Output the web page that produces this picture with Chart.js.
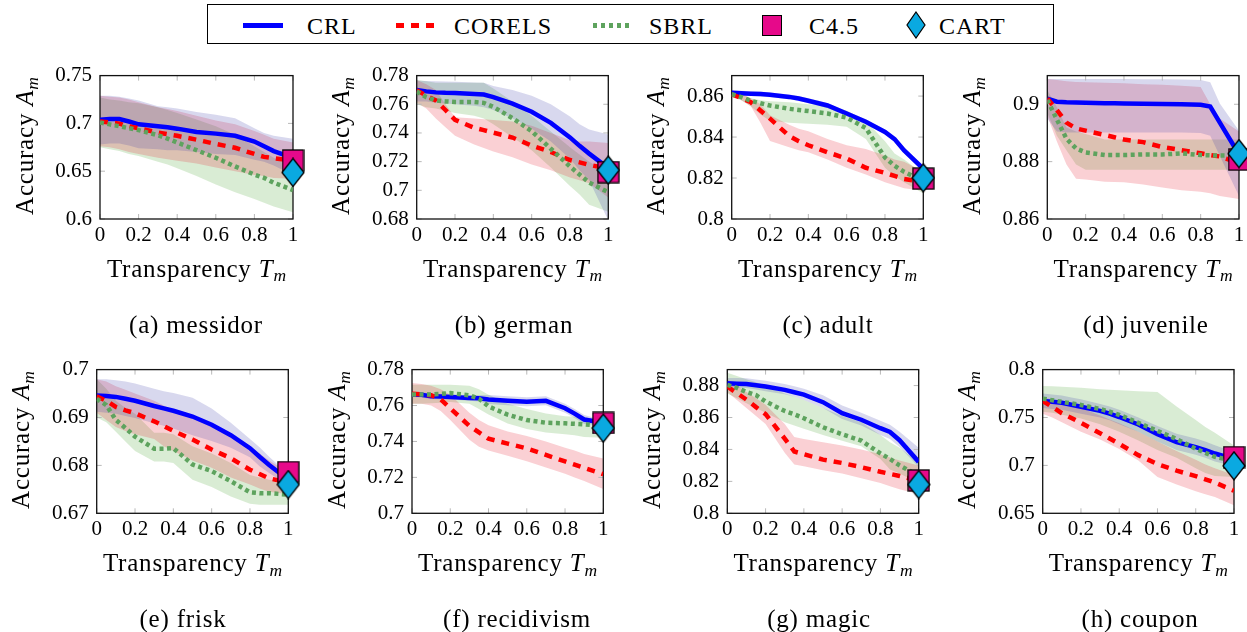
<!DOCTYPE html>
<html>
<head>
<meta charset="utf-8">
<script src="https://cdn.jsdelivr.net/npm/chart.js@4.4.1/dist/chart.umd.min.js"></script>
<style>
body { margin: 0; background: #fff; }
#fig { position: relative; width: 1247px; height: 632px; overflow: hidden; background: #fff; font-family: "Liberation Serif", "DejaVu Serif", serif; color: #000; }
#fig canvas { position: absolute; }
.txt { position: absolute; white-space: nowrap; font-size: 25px; line-height: 25px; letter-spacing: 0.8px; }
.leg { position: absolute; white-space: nowrap; font-size: 24px; line-height: 24px; letter-spacing: 1px; top: 14px; }
.sb { font-size: 0.7em; position: relative; top: 0.28em; letter-spacing: 0; }
.ytitle { width: 220px; height: 30px; line-height: 30px; text-align: center; transform: rotate(-90deg); }
</style>
</head>
<body>
<div id="fig">
  <div style="position:absolute;left:207px;top:4px;width:845px;height:38px;border:1.3px solid #000;"></div>
  <div style="position:absolute;left:243px;top:23px;width:40px;height:5px;background:#0000ff;"></div>
  <div class="leg" style="left:307px;">CRL</div>
  <div style="position:absolute;left:396px;top:23px;width:38px;height:5px;background:repeating-linear-gradient(90deg,#ff0000 0 8px,transparent 8px 15px);"></div>
  <div class="leg" style="left:454px;">CORELS</div>
  <div style="position:absolute;left:593px;top:23px;width:37px;height:5px;background:repeating-linear-gradient(90deg,#5ea35e 0 4px,transparent 4px 8px);"></div>
  <div class="leg" style="left:649px;">SBRL</div>
  <div style="position:absolute;left:762px;top:15px;width:18px;height:19px;background:#e6098a;border:1.2px solid #000;"></div>
  <div class="leg" style="left:809px;">C4.5</div>
  <svg style="position:absolute;left:906px;top:11px;" width="20" height="28"><polygon points="10,1 19,14 10,27 1,14" fill="#0aa9e1" stroke="#000" stroke-width="1.2"/></svg>
  <div class="leg" style="left:939px;">CART</div>
</div>
<script>
// transparency grid shared by every curve
const T = [0, 0.05, 0.1, 0.15, 0.2, 0.3, 0.35, 0.4, 0.5, 0.6, 0.7, 0.8, 0.85, 0.9, 1];

// (a) messidor
const messidorCrl   = [0.7038,0.7045,0.7045,0.702,0.699,0.697,0.696,0.6945,0.691,0.6893,0.687,0.681,0.676,0.671,0.664];
const messidorCrlHi = [0.729,0.729,0.728,0.726,0.724,0.718,0.717,0.7155,0.712,0.709,0.7055,0.695,0.690,0.687,0.684];
const messidorCrlLo = [0.678,0.679,0.679,0.677,0.674,0.673,0.672,0.672,0.670,0.668,0.667,0.662,0.660,0.656,0.646];
const messidorCor   = [0.702,0.701,0.6998,0.697,0.695,0.6903,0.6887,0.687,0.683,0.6785,0.6745,0.668,0.665,0.6635,0.661];
const messidorCorHi = [0.729,0.728,0.727,0.725,0.722,0.717,0.715,0.713,0.708,0.703,0.699,0.692,0.688,0.684,0.680];
const messidorCorLo = [0.676,0.675,0.673,0.670,0.668,0.664,0.6625,0.661,0.658,0.654,0.650,0.646,0.645,0.643,0.642];
const messidorSb    = [0.701,0.699,0.697,0.695,0.693,0.6876,0.684,0.680,0.672,0.664,0.655,0.6465,0.643,0.638,0.6303];
const messidorSbHi  = [0.727,0.725,0.724,0.722,0.721,0.717,0.714,0.711,0.704,0.697,0.688,0.676,0.670,0.664,0.654];
const messidorSbLo  = [0.675,0.673,0.671,0.668,0.666,0.660,0.657,0.653,0.645,0.636,0.628,0.621,0.617,0.613,0.607];

// (b) german
const germanCrl   = [0.7699,0.769,0.7683,0.768,0.7679,0.7672,0.7668,0.765,0.7604,0.7548,0.747,0.7369,0.731,0.7256,0.7155];
const germanCrlHi = [0.7766,0.7763,0.776,0.7758,0.7757,0.7752,0.775,0.7728,0.770,0.766,0.760,0.7515,0.746,0.7425,0.739];
const germanCrlLo = [0.762,0.762,0.761,0.7605,0.760,0.759,0.758,0.756,0.750,0.743,0.734,0.722,0.714,0.707,0.679];
const germanCor   = [0.7699,0.766,0.7627,0.756,0.7492,0.7436,0.742,0.7402,0.7368,0.7312,0.7267,0.7211,0.7195,0.7178,0.715];
const germanCorHi = [0.777,0.774,0.770,0.760,0.751,0.750,0.7495,0.749,0.748,0.745,0.740,0.735,0.734,0.734,0.733];
const germanCorLo = [0.761,0.757,0.750,0.744,0.738,0.732,0.7295,0.727,0.723,0.718,0.714,0.709,0.707,0.705,0.695];
const germanSb    = [0.7689,0.765,0.7627,0.762,0.7616,0.7616,0.761,0.7582,0.7503,0.7413,0.729,0.7166,0.711,0.7054,0.6987];
const germanSbHi  = [0.777,0.776,0.775,0.775,0.775,0.775,0.775,0.771,0.762,0.752,0.741,0.730,0.725,0.720,0.712];
const germanSbLo  = [0.760,0.758,0.757,0.7555,0.754,0.752,0.750,0.746,0.737,0.728,0.716,0.703,0.697,0.690,0.685];

// (c) adult
const adultCrl   = [0.8616,0.8614,0.8612,0.861,0.8606,0.8596,0.8588,0.8577,0.8554,0.8515,0.8475,0.8425,0.839,0.8335,0.8245];
const adultCrlHi = [0.8628,0.8626,0.8624,0.8622,0.8618,0.8608,0.860,0.8589,0.8566,0.8527,0.8487,0.8437,0.8402,0.8347,0.8257];
const adultCrlLo = [0.8604,0.8602,0.860,0.8598,0.8594,0.8584,0.8576,0.8565,0.8542,0.8503,0.8463,0.8413,0.8378,0.8323,0.8233];
const adultCor   = [0.8609,0.859,0.857,0.853,0.849,0.8405,0.838,0.836,0.8326,0.8295,0.825,0.8225,0.821,0.8195,0.818];
const adultCorHi = [0.862,0.861,0.859,0.856,0.8507,0.846,0.844,0.8428,0.839,0.836,0.8342,0.831,0.829,0.828,0.8232];
const adultCorLo = [0.8605,0.858,0.855,0.847,0.8381,0.835,0.8335,0.8326,0.829,0.825,0.8217,0.818,0.8165,0.815,0.8138];
const adultSb    = [0.8609,0.8595,0.8577,0.8565,0.8554,0.8538,0.8532,0.8527,0.8515,0.8495,0.8444,0.830,0.826,0.823,0.8185];
const adultSbHi  = [0.862,0.861,0.859,0.858,0.8575,0.857,0.8565,0.856,0.855,0.853,0.848,0.838,0.832,0.829,0.822];
const adultSbLo  = [0.860,0.858,0.855,0.851,0.848,0.847,0.8467,0.8465,0.846,0.845,0.839,0.825,0.821,0.818,0.8125];

// (d) juvenile
const juvenileCrl   = [0.902,0.9009,0.9007,0.9006,0.9005,0.9004,0.9004,0.9003,0.9002,0.9001,0.900,0.8998,0.8992,0.8936,0.8825];
const juvenileCrlHi = [0.9088,0.9088,0.9088,0.9088,0.9088,0.9088,0.9088,0.9088,0.9087,0.9087,0.9086,0.9085,0.9077,0.9003,0.8908];
const juvenileCrlLo = [0.895,0.8905,0.8902,0.8902,0.8902,0.8902,0.8902,0.8902,0.8902,0.8902,0.8902,0.890,0.889,0.882,0.868];
const juvenileCor   = [0.902,0.898,0.8936,0.8916,0.8908,0.8893,0.8885,0.8877,0.8868,0.8851,0.884,0.8829,0.8823,0.8818,0.8795];
const juvenileCorHi = [0.9088,0.9085,0.908,0.9078,0.9077,0.9075,0.9074,0.9073,0.907,0.9068,0.9065,0.906,0.900,0.895,0.8905];
const juvenileCorLo = [0.896,0.887,0.879,0.874,0.8738,0.873,0.8729,0.8728,0.872,0.871,0.870,0.8695,0.869,0.868,0.867];
const juvenileSb    = [0.9015,0.8947,0.888,0.8846,0.8832,0.8823,0.8823,0.8823,0.8825,0.8825,0.8829,0.8823,0.8822,0.8821,0.8821];
const juvenileSbHi  = [0.905,0.899,0.8919,0.8905,0.8896,0.8877,0.8877,0.8877,0.8877,0.8877,0.8877,0.8877,0.8877,0.8877,0.8877];
const juvenileSbLo  = [0.897,0.889,0.884,0.879,0.8772,0.8772,0.8772,0.8772,0.8772,0.8772,0.8772,0.8772,0.8772,0.8772,0.8772];

// (e) frisk
const friskCrl   = [0.6946,0.6945,0.6943,0.6939,0.6935,0.6924,0.6919,0.6914,0.6902,0.6885,0.6863,0.6836,0.6818,0.6801,0.677];
const friskCrlHi = [0.698,0.698,0.6978,0.6975,0.6971,0.696,0.6955,0.6951,0.6941,0.6919,0.6889,0.6855,0.6838,0.6818,0.6782];
const friskCrlLo = [0.6912,0.691,0.6908,0.6903,0.6899,0.6888,0.6883,0.6877,0.6863,0.6851,0.6837,0.6817,0.6798,0.6784,0.6758];
const friskCor   = [0.6944,0.6935,0.6922,0.6915,0.6909,0.6892,0.6882,0.6872,0.6854,0.6833,0.6815,0.6791,0.6782,0.6773,0.6764];
const friskCorHi = [0.698,0.6975,0.6965,0.6958,0.695,0.6935,0.6925,0.6915,0.6898,0.6883,0.6862,0.6835,0.6825,0.681,0.6785];
const friskCorLo = [0.691,0.6895,0.688,0.6872,0.6865,0.6855,0.684,0.683,0.681,0.6795,0.6775,0.676,0.6752,0.6745,0.674];
const friskSb    = [0.6939,0.6926,0.6895,0.6878,0.686,0.6835,0.6835,0.6836,0.6802,0.6788,0.6767,0.6744,0.6742,0.6742,0.6739];
const friskSbHi  = [0.698,0.696,0.6935,0.692,0.6908,0.6868,0.6868,0.6865,0.684,0.6825,0.6805,0.678,0.6775,0.677,0.6765];
const friskSbLo  = [0.690,0.689,0.687,0.685,0.683,0.6808,0.6808,0.6805,0.677,0.6755,0.6735,0.672,0.6718,0.6718,0.6718];

// (f) recidivism
const recidivismCrl   = [0.7662,0.766,0.7651,0.765,0.7648,0.7642,0.764,0.7633,0.7626,0.7621,0.7626,0.7585,0.7555,0.7522,0.7504];
const recidivismCrlHi = [0.7677,0.7675,0.7666,0.7665,0.7663,0.7657,0.7658,0.7658,0.7651,0.7646,0.7651,0.761,0.758,0.7547,0.7519];
const recidivismCrlLo = [0.7647,0.7645,0.7636,0.7635,0.7633,0.7627,0.7622,0.7608,0.7601,0.7596,0.7601,0.756,0.753,0.7497,0.7489];
const recidivismCor   = [0.7666,0.7662,0.7657,0.7635,0.7585,0.7486,0.745,0.7415,0.7388,0.7361,0.7325,0.7289,0.7271,0.7253,0.7218];
const recidivismCorHi = [0.7725,0.772,0.771,0.769,0.766,0.756,0.752,0.749,0.7455,0.743,0.740,0.7365,0.735,0.733,0.7305];
const recidivismCorLo = [0.761,0.761,0.760,0.757,0.752,0.741,0.737,0.735,0.732,0.729,0.7255,0.722,0.720,0.718,0.7135];
const recidivismSb    = [0.7662,0.7662,0.7662,0.7665,0.7669,0.7657,0.7638,0.7595,0.7549,0.7519,0.7504,0.7501,0.7498,0.7495,0.7486];
const recidivismSbHi  = [0.7715,0.7715,0.7715,0.7715,0.7715,0.771,0.769,0.766,0.761,0.758,0.7555,0.754,0.7537,0.7535,0.752];
const recidivismSbLo  = [0.761,0.761,0.7612,0.7615,0.762,0.761,0.758,0.755,0.750,0.747,0.745,0.744,0.7435,0.7425,0.742];

// (g) magic
const magicCrl   = [0.8814,0.8812,0.881,0.8802,0.8794,0.8773,0.8758,0.8743,0.8696,0.8627,0.8586,0.8533,0.8509,0.8458,0.8322];
const magicCrlHi = [0.8848,0.8847,0.8846,0.8838,0.883,0.881,0.8795,0.878,0.874,0.8675,0.863,0.858,0.8555,0.851,0.841];
const magicCrlLo = [0.879,0.8787,0.8785,0.8775,0.8765,0.8745,0.873,0.871,0.866,0.859,0.855,0.849,0.8465,0.8415,0.829];
const magicCor   = [0.8794,0.8753,0.8712,0.8665,0.8621,0.8468,0.8387,0.837,0.8336,0.8315,0.8289,0.826,0.8247,0.8234,0.8204];
const magicCorHi = [0.884,0.880,0.876,0.872,0.868,0.856,0.8478,0.8465,0.8445,0.8425,0.840,0.837,0.835,0.833,0.830];
const magicCorLo = [0.876,0.871,0.866,0.861,0.856,0.838,0.8305,0.8295,0.827,0.825,0.822,0.819,0.817,0.815,0.812];
const magicSb    = [0.8805,0.8785,0.876,0.874,0.870,0.8641,0.862,0.8595,0.8539,0.8495,0.8455,0.8375,0.834,0.830,0.8235];
const magicSbHi  = [0.888,0.886,0.884,0.882,0.880,0.875,0.873,0.871,0.866,0.861,0.857,0.849,0.8445,0.841,0.832];
const magicSbLo  = [0.875,0.872,0.869,0.866,0.863,0.857,0.855,0.853,0.849,0.8455,0.842,0.834,0.8275,0.825,0.819];

// (h) coupon
const couponCrl   = [0.7673,0.7665,0.7653,0.7633,0.7612,0.7569,0.754,0.7505,0.7427,0.7326,0.7242,0.7191,0.716,0.7124,0.7066];
const couponCrlHi = [0.775,0.774,0.773,0.771,0.769,0.764,0.7615,0.758,0.750,0.741,0.733,0.728,0.725,0.721,0.714];
const couponCrlLo = [0.760,0.759,0.758,0.756,0.754,0.750,0.747,0.743,0.735,0.725,0.716,0.711,0.708,0.704,0.699];
const couponCor   = [0.7673,0.761,0.7545,0.7495,0.7444,0.7336,0.728,0.7225,0.7107,0.7013,0.6945,0.6888,0.6855,0.6821,0.6736];
const couponCorHi = [0.771,0.769,0.766,0.763,0.760,0.752,0.748,0.744,0.735,0.725,0.715,0.706,0.701,0.697,0.690];
const couponCorLo = [0.754,0.750,0.745,0.740,0.735,0.727,0.722,0.717,0.705,0.688,0.680,0.673,0.670,0.667,0.6585];
const couponSb    = [0.7697,0.768,0.7663,0.7647,0.763,0.7589,0.756,0.7528,0.7444,0.736,0.7275,0.7174,0.713,0.709,0.7046];
const couponSbHi  = [0.783,0.7825,0.782,0.7815,0.781,0.7795,0.779,0.7785,0.7775,0.7765,0.7615,0.7475,0.740,0.734,0.7208];
const couponSbLo  = [0.756,0.755,0.753,0.751,0.749,0.743,0.739,0.735,0.726,0.716,0.708,0.697,0.692,0.689,0.688];

// baselines, all at transparency 1
const c45Acc  = [0.6612, 0.7127, 0.8197, 0.8807, 0.6786, 0.7503, 0.8206, 0.7087];
const cartAcc = [0.6487, 0.7141, 0.8201, 0.8828, 0.676, 0.7474, 0.818, 0.6996];

const captions = ["(a) messidor", "(b) german", "(c) adult", "(d) juvenile", "(e) frisk", "(f) recidivism", "(g) magic", "(h) coupon"];
const yMins  = [0.6, 0.68, 0.8, 0.86, 0.67, 0.7, 0.8, 0.65];
const yMaxs  = [0.75, 0.78, 0.87, 0.91, 0.7, 0.78, 0.89, 0.8];
const ySteps = [0.05, 0.02, 0.02, 0.02, 0.01, 0.02, 0.02, 0.05];
const xStep = 0.2;

const crlSets = [
    [messidorCrl, messidorCrlLo, messidorCrlHi], [germanCrl, germanCrlLo, germanCrlHi],
    [adultCrl, adultCrlLo, adultCrlHi], [juvenileCrl, juvenileCrlLo, juvenileCrlHi],
    [friskCrl, friskCrlLo, friskCrlHi], [recidivismCrl, recidivismCrlLo, recidivismCrlHi],
    [magicCrl, magicCrlLo, magicCrlHi], [couponCrl, couponCrlLo, couponCrlHi]
];
const corSets = [
    [messidorCor, messidorCorLo, messidorCorHi], [germanCor, germanCorLo, germanCorHi],
    [adultCor, adultCorLo, adultCorHi], [juvenileCor, juvenileCorLo, juvenileCorHi],
    [friskCor, friskCorLo, friskCorHi], [recidivismCor, recidivismCorLo, recidivismCorHi],
    [magicCor, magicCorLo, magicCorHi], [couponCor, couponCorLo, couponCorHi]
];
const sbSets = [
    [messidorSb, messidorSbLo, messidorSbHi], [germanSb, germanSbLo, germanSbHi],
    [adultSb, adultSbLo, adultSbHi], [juvenileSb, juvenileSbLo, juvenileSbHi],
    [friskSb, friskSbLo, friskSbHi], [recidivismSb, recidivismSbLo, recidivismSbHi],
    [magicSb, magicSbLo, magicSbHi], [couponSb, couponSbLo, couponSbHi]
];

// plot area of each panel on the page: left, top, right, bottom
const boxes = [
    [100, 71, 293, 219], [416.7, 71, 608.3, 219], [731.7, 71, 923.3, 219], [1047.3, 71, 1239, 219],
    [96.7, 365, 288.3, 513.3], [412, 365, 603.3, 513.3], [727.3, 365, 918.7, 513.3], [1042.7, 365, 1234, 513.3]
];

const BLUE = "#0000ff", RED = "#ff0000", GREEN = "#5ea35e";
const tickFont = { family: "'Liberation Serif', 'DejaVu Serif', serif", size: 21 };
const fmt = v => String(parseFloat(Number(v).toFixed(3)));

function markerImage(kind) {
    const c = document.createElement("canvas");
    if (kind === "square") {
        c.width = 23; c.height = 23;
        const g = c.getContext("2d");
        g.fillStyle = "#e6098a";
        g.fillRect(1, 1, 21, 21);
        g.lineWidth = 1.3; g.strokeStyle = "#000";
        g.strokeRect(1, 1, 21, 21);
    } else {
        c.width = 24; c.height = 30;
        const g = c.getContext("2d");
        g.beginPath();
        g.moveTo(12, 1); g.lineTo(23, 15); g.lineTo(12, 29); g.lineTo(1, 15); g.closePath();
        g.fillStyle = "#0aa9e1"; g.fill();
        g.lineWidth = 1.3; g.strokeStyle = "#000"; g.stroke();
    }
    return c;
}
const squareImg = markerImage("square");
const diamondImg = markerImage("diamond");

function pts(arr) {
    return arr.map((v, i) => ({ x: T[i], y: v }));
}

function bandSets(hi, lo, color) {
    return [
        { data: pts(hi), borderWidth: 0, borderColor: "transparent", pointRadius: 0, backgroundColor: color, fill: "+1", order: 9 },
        { data: pts(lo), borderWidth: 0, borderColor: "transparent", pointRadius: 0, fill: false, order: 9 }
    ];
}

function lineSet(mean, color, dash, order) {
    return { data: pts(mean), borderColor: color, borderWidth: 4.5, borderDash: dash, borderCapStyle: "butt",
             pointRadius: 0, fill: false, order: order, tension: 0 };
}

// frame + small inward ticks, drawn under the curves
const framePlugin = {
    id: "frame",
    beforeDatasetsDraw(chart) {
        const { ctx, chartArea: a, scales } = chart;
        const xs = scales.x, ys = scales.y;
        ctx.save();
        ctx.strokeStyle = "#b9b9b9";
        ctx.lineWidth = 1;
        ctx.beginPath();
        xs.ticks.forEach(t => {
            const px = xs.getPixelForValue(t.value);
            ctx.moveTo(px, a.bottom); ctx.lineTo(px, a.bottom - 5);
            ctx.moveTo(px, a.top); ctx.lineTo(px, a.top + 5);
        });
        ys.ticks.forEach(t => {
            const py = ys.getPixelForValue(t.value);
            ctx.moveTo(a.left, py); ctx.lineTo(a.left + 5, py);
            ctx.moveTo(a.right, py); ctx.lineTo(a.right - 5, py);
        });
        ctx.stroke();
        ctx.strokeStyle = "#111";
        ctx.lineWidth = 1.3;
        ctx.strokeRect(a.left, a.top, a.right - a.left, a.bottom - a.top);
        ctx.restore();
    }
};

function addText(cls, html, style) {
    const d = document.createElement("div");
    d.className = cls;
    d.innerHTML = html;
    Object.assign(d.style, style);
    document.getElementById("fig").appendChild(d);
}

const captionX = [196, 514, 828, 1146, 183, 517, 819, 1140];

boxes.forEach((b, i) => {
    const [L, Tp, R, B] = b;
    const cx = Math.floor(L) - 62;
    const cy = Math.floor(Tp) - 16;
    const cw = Math.ceil(R) + 26 - cx;
    const ch = Math.ceil(B) + 42 - cy;

    const cv = document.createElement("canvas");
    cv.width = cw; cv.height = ch;
    cv.style.left = cx + "px"; cv.style.top = cy + "px";
    cv.style.width = cw + "px"; cv.style.height = ch + "px";
    document.getElementById("fig").appendChild(cv);

    const [crl, crlLo, crlHi] = crlSets[i];
    const [cor, corLo, corHi] = corSets[i];
    const [sb, sbLo, sbHi] = sbSets[i];

    const datasets = [
        ...bandSets(crlHi, crlLo, "rgba(60,60,170,0.2)"),
        ...bandSets(corHi, corLo, "rgba(230,20,40,0.2)"),
        ...bandSets(sbHi, sbLo, "rgba(80,170,60,0.22)"),
        lineSet(crl, BLUE, [], 4),
        lineSet(cor, RED, [8, 7], 3),
        lineSet(sb, GREEN, [4, 3.5], 2),
        { data: [{ x: 1, y: c45Acc[i] }], showLine: false, pointStyle: squareImg, pointRadius: 11, clip: false, order: 1 },
        { data: [{ x: 1, y: cartAcc[i] }], showLine: false, pointStyle: diamondImg, pointRadius: 11, clip: false, order: 0 }
    ];

    new Chart(cv, {
        type: "line",
        data: { datasets: datasets },
        options: {
            responsive: false,
            animation: false,
            devicePixelRatio: 1,
            events: [],
            layout: { padding: { left: L - 60 - cx, top: Tp - cy, right: cx + cw - R, bottom: cy + ch - 40 - B } },
            plugins: { legend: { display: false }, tooltip: { enabled: false }, filler: { drawTime: "beforeDatasetsDraw" } },
            scales: {
                x: {
                    type: "linear", min: 0, max: 1,
                    grid: { display: false, drawTicks: false }, border: { display: false },
                    ticks: { stepSize: xStep, padding: 4, font: tickFont, color: "#000", callback: fmt, maxRotation: 0, autoSkip: false },
                    afterFit: s => { s.height = 40; }
                },
                y: {
                    type: "linear", min: yMins[i], max: yMaxs[i],
                    grid: { display: false, drawTicks: false }, border: { display: false },
                    ticks: { stepSize: ySteps[i], includeBounds: false, padding: 8, font: tickFont, color: "#000", callback: fmt, autoSkip: false },
                    afterFit: s => { s.width = 60; }
                }
            }
        },
        plugins: [framePlugin]
    });

    // axis titles and panel caption
    addText("txt ytitle", 'Accuracy <i>A</i><i class="sb">m</i>',
        { left: (L - 75.4 - 110) + "px", top: ((Tp + B) / 2 + 1 - 15) + "px" });
    addText("txt", 'Transparency <i>T</i><i class="sb">m</i>',
        { left: ((L + R) / 2 - 150) + "px", width: "300px", textAlign: "center", top: (B + 36.5) + "px" });
    addText("txt", captions[i],
        { left: (captionX[i] - 150) + "px", width: "300px", textAlign: "center", top: (i < 4 ? 312 : 606) + "px" });
});
</script>
</body>
</html>
